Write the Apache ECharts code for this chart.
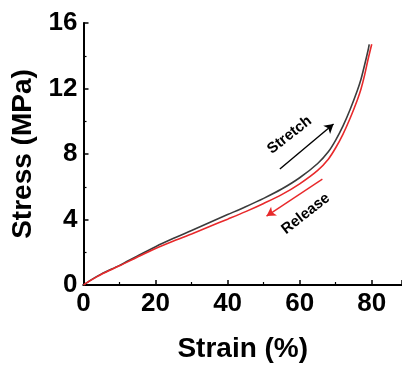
<!DOCTYPE html>
<html>
<head>
<meta charset="utf-8">
<script src="https://cdn.jsdelivr.net/npm/echarts@6/dist/echarts.min.js"></script>
<style>
  html, body { margin: 0; padding: 0; background: #fff; }
  #chart { width: 402px; height: 376px; }
</style>
</head>
<body>
<div id="chart"></div>
<script>
// strain (%) / stress (MPa)
const stretchStrain = [0, 2, 5, 10, 15, 20, 25, 30, 35, 40, 45, 50, 55, 60, 65, 68, 70, 72, 74, 76, 77, 78, 79, 79.3]
const stretchStress = [0, 0.3, 0.68, 1.2, 1.78, 2.34, 2.85, 3.33, 3.82, 4.3, 4.78, 5.29, 5.86, 6.55, 7.42, 8.15, 8.85, 9.7, 10.72, 11.88, 12.55, 13.42, 14.35, 14.7]

const releaseStrain = [0, 2, 5, 10, 15, 20, 25, 30, 35, 40, 45, 50, 55, 60, 65, 68, 70, 72, 74, 76, 77, 78, 79, 79.6, 80]
const releaseStress = [0, 0.28, 0.66, 1.17, 1.71, 2.23, 2.69, 3.12, 3.57, 4.02, 4.48, 4.98, 5.52, 6.18, 7.0, 7.7, 8.38, 9.2, 10.18, 11.3, 11.95, 12.8, 13.8, 14.35, 14.7]

const xTicks = [0, 20, 40, 60, 80]
const yTicks = [0, 4, 8, 12, 16]
const xMax = 88.4 // the frame is cut at the right edge

// annotation arrows, in data units [strain, stress]
const stretchArrow = [[54.5, 7.08], [69.4, 9.83]]
const releaseArrow = [[66.3, 6.47], [50.8, 4.21]]
const stretchLabelAt = [57.2, 9.16]
const releaseLabelAt = [61.7, 4.35]

const font = '"Liberation Sans", Arial, sans-serif'
const toPairs = (xs, ys) => xs.map((x, i) => [x, ys[i]])

const chart = echarts.init(document.getElementById('chart'))

const axisCommon = {
  axisLine: { show: true, onZero: false, lineStyle: { color: '#000', width: 2 } },
  axisTick: { show: true, inside: true, length: 5, lineStyle: { color: '#000', width: 1.5 } },
  minorTick: { show: true, splitNumber: 2, length: 3, lineStyle: { color: '#000', width: 1.2 } },
  splitLine: { show: false },
  axisLabel: { color: '#000', fontFamily: font, fontWeight: 'bold', fontSize: 26 },
  nameTextStyle: { color: '#000', fontFamily: font, fontWeight: 'bold', fontSize: 28 },
  nameLocation: 'middle'
}

const option = {
  animation: false,
  grid: { left: 83.5, right: 0, top: 23, bottom: 91 },
  xAxis: [{
    ...axisCommon,
    type: 'value',
    min: xTicks[0],
    max: xMax,
    interval: 20,
    name: 'Strain (%)',
    nameGap: 50,
    axisLabel: { ...axisCommon.axisLabel, margin: 6, showMaxLabel: false }
  }, {
    type: 'value',
    position: 'top',
    min: 0,
    max: xMax,
    axisLine: { show: true, lineStyle: { color: '#000', width: 2 } },
    axisTick: { show: false },
    axisLabel: { show: false },
    splitLine: { show: false }
  }],
  yAxis: {
    ...axisCommon,
    type: 'value',
    min: yTicks[0],
    max: yTicks[yTicks.length - 1],
    interval: 4,
    name: 'Stress (MPa)',
    nameGap: 45,
    axisLabel: { ...axisCommon.axisLabel, margin: 6 }
  },
  series: [
    {
      type: 'line',
      name: 'Stretch',
      data: toPairs(stretchStrain, stretchStress),
      smooth: 0.3,
      showSymbol: false,
      lineStyle: { color: '#3c3c3c', width: 1.6 },
      markLine: {
        silent: true,
        symbol: ['none', 'arrow'],
        symbolSize: [8, 9],
        label: { show: false },
        lineStyle: { color: '#000', width: 1.4, type: 'solid' },
        data: [[{ coord: stretchArrow[0] }, { coord: stretchArrow[1] }]]
      }
    },
    {
      type: 'line',
      name: 'Release',
      data: toPairs(releaseStrain, releaseStress),
      smooth: 0.3,
      showSymbol: false,
      lineStyle: { color: '#e8292b', width: 1.6 },
      markLine: {
        silent: true,
        symbol: ['none', 'arrow'],
        symbolSize: [8, 9],
        label: { show: false },
        lineStyle: { color: '#e8292b', width: 1.4, type: 'solid' },
        data: [[{ coord: releaseArrow[0] }, { coord: releaseArrow[1] }]]
      }
    }
  ]
}

chart.setOption(option)

// rotated annotation texts placed at data positions
const p1 = chart.convertToPixel({ gridIndex: 0 }, stretchLabelAt)
const p2 = chart.convertToPixel({ gridIndex: 0 }, releaseLabelAt)
const angle = 38 * Math.PI / 180
chart.setOption({
  graphic: [
    {
      type: 'text', x: p1[0], y: p1[1], rotation: angle,
      style: { text: 'Stretch', fill: '#000', font: 'bold 15px ' + font, align: 'center', verticalAlign: 'middle' }
    },
    {
      type: 'text', x: p2[0], y: p2[1], rotation: angle,
      style: { text: 'Release', fill: '#000', font: 'bold 15px ' + font, align: 'center', verticalAlign: 'middle' }
    }
  ]
})
</script>
</body>
</html>
